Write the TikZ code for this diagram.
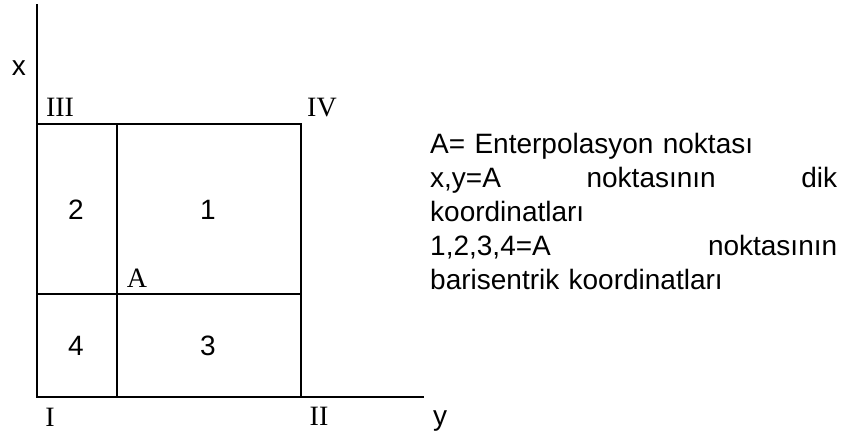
\documentclass[tikz,border=0pt]{standalone}
\usepackage{fontspec}
\setmainfont{Liberation Serif}
\newfontfamily\arial{Liberation Sans}
\begin{document}
\begin{tikzpicture}[x=1pt,y=-1pt,
  ln/.style={line width=2pt,line cap=rect},
  rom/.style={font=\fontsize{28}{30}\selectfont,inner sep=0pt,anchor=base},
  num/.style={font=\arial\fontsize{28}{30}\selectfont,inner sep=0pt},
  legend/.style={font=\arial\fontsize{28}{34}\selectfont,inner sep=0pt,anchor=base west,text width=407pt,align=left}]
\useasboundingbox (0,0) rectangle (841,436);
% axes and grid
\coordinate (top) at (37,5);
\coordinate (O) at (37,397);
\coordinate (xend) at (423,397);
\coordinate (TL) at (37,124);
\coordinate (TR) at (301,124);
\coordinate (BR) at (301,397);
\coordinate (IT) at (117,124);
\coordinate (IB) at (117,397);
\coordinate (HL) at (37,294);
\coordinate (HR) at (301,294);
\draw[ln] (top) -- (O) -- (xend);
\draw[ln] (TL) -- (TR) -- (BR);
\draw[ln] (IT) -- (IB);
\draw[ln] (HL) -- (HR);
% labels
\node[num,anchor=base] (lx) at (19,75) {x};
\node[num,anchor=base] (ly) at (440,425) {y};
\node[rom] (lIII) at (60,117) {III};
\node[rom] (lIV) at (322,117) {IV};
\node[rom] (lI) at (50,426) {I};
\node[rom] (lII) at (319,425) {II};
\node[rom] (lA) at (137,287) {A};
\node[num] (n2) at (76,210) {2};
\node[num] (n1) at (208,210) {1};
\node[num] (n4) at (76,346) {4};
\node[num] (n3) at (208,346) {3};
\node[legend] (leg) at (430,153) {A= Enterpolasyon noktası\\
\makebox[407pt][l]{x,y=A\hfill noktasının\hfill dik}\\
koordinatları\\
\makebox[407pt][l]{1,2,3,4=A\hfill noktasının}\\
barisentrik koordinatları};
\end{tikzpicture}
\end{document}
